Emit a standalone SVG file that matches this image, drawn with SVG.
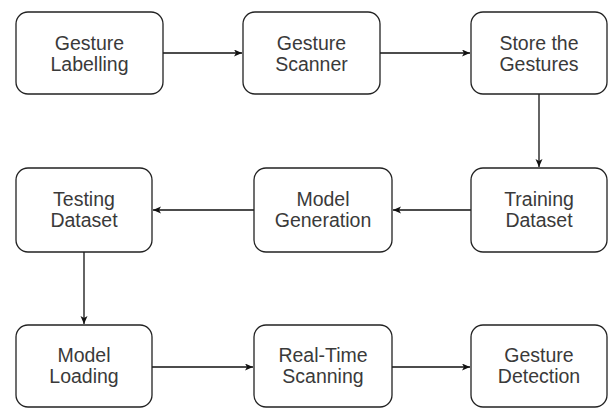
<svg xmlns="http://www.w3.org/2000/svg" width="611" height="408" viewBox="0 0 611 408">
<style>
.box{fill:#fff;stroke:#222;stroke-width:1.3}
.lbl{font-family:"Liberation Sans",Arial,sans-serif;font-size:19.5px;fill:#3a3a3a;text-anchor:middle}
.edge{fill:none;stroke:#111;stroke-width:1.3}
</style>
<defs>
<marker id="ah" markerWidth="10" markerHeight="8" refX="8" refY="3.5" orient="auto" markerUnits="userSpaceOnUse">
<path d="M0,0 L8,3.5 L0,7 L2,3.5 z" fill="#111"/>
</marker>
</defs>
<rect width="611" height="408" fill="#fff"/>
<g id="connectors">
<line class="edge" x1="163" y1="53" x2="242" y2="53" marker-end="url(#ah)"/>
<line class="edge" x1="380" y1="53" x2="470" y2="53" marker-end="url(#ah)"/>
<line class="edge" x1="539" y1="94" x2="539" y2="167" marker-end="url(#ah)"/>
<line class="edge" x1="471" y1="210" x2="393" y2="210" marker-end="url(#ah)"/>
<line class="edge" x1="254" y1="210" x2="153" y2="210" marker-end="url(#ah)"/>
<line class="edge" x1="84" y1="252" x2="84" y2="324" marker-end="url(#ah)"/>
<line class="edge" x1="152" y1="367" x2="253" y2="367" marker-end="url(#ah)"/>
<line class="edge" x1="392" y1="367" x2="470" y2="367" marker-end="url(#ah)"/>
</g>
<g id="n1"><rect class="box" x="16" y="12" width="147" height="82" rx="12"/>
<text class="lbl" x="89.5" y="50">Gesture</text><text class="lbl" x="89.5" y="71">Labelling</text></g>
<g id="n2"><rect class="box" x="243" y="12" width="137" height="82" rx="12"/>
<text class="lbl" x="311.5" y="50">Gesture</text><text class="lbl" x="311.5" y="71">Scanner</text></g>
<g id="n3"><rect class="box" x="471" y="12" width="136" height="82" rx="12"/>
<text class="lbl" x="539" y="50">Store the</text><text class="lbl" x="539" y="71">Gestures</text></g>
<g id="n4"><rect class="box" x="471" y="168" width="136" height="84" rx="12"/>
<text class="lbl" x="539" y="206">Training</text><text class="lbl" x="539" y="227">Dataset</text></g>
<g id="n5"><rect class="box" x="254" y="168" width="138" height="84" rx="12"/>
<text class="lbl" x="323" y="206">Model</text><text class="lbl" x="323" y="227">Generation</text></g>
<g id="n6"><rect class="box" x="16" y="168" width="136" height="84" rx="12"/>
<text class="lbl" x="84" y="206">Testing</text><text class="lbl" x="84" y="227">Dataset</text></g>
<g id="n7"><rect class="box" x="16" y="325" width="136" height="82" rx="12"/>
<text class="lbl" x="84" y="362">Model</text><text class="lbl" x="84" y="383">Loading</text></g>
<g id="n8"><rect class="box" x="254" y="325" width="138" height="82" rx="12"/>
<text class="lbl" x="323" y="362">Real-Time</text><text class="lbl" x="323" y="383">Scanning</text></g>
<g id="n9"><rect class="box" x="471" y="325" width="136" height="82" rx="12"/>
<text class="lbl" x="539" y="362">Gesture</text><text class="lbl" x="539" y="383">Detection</text></g>
</svg>
